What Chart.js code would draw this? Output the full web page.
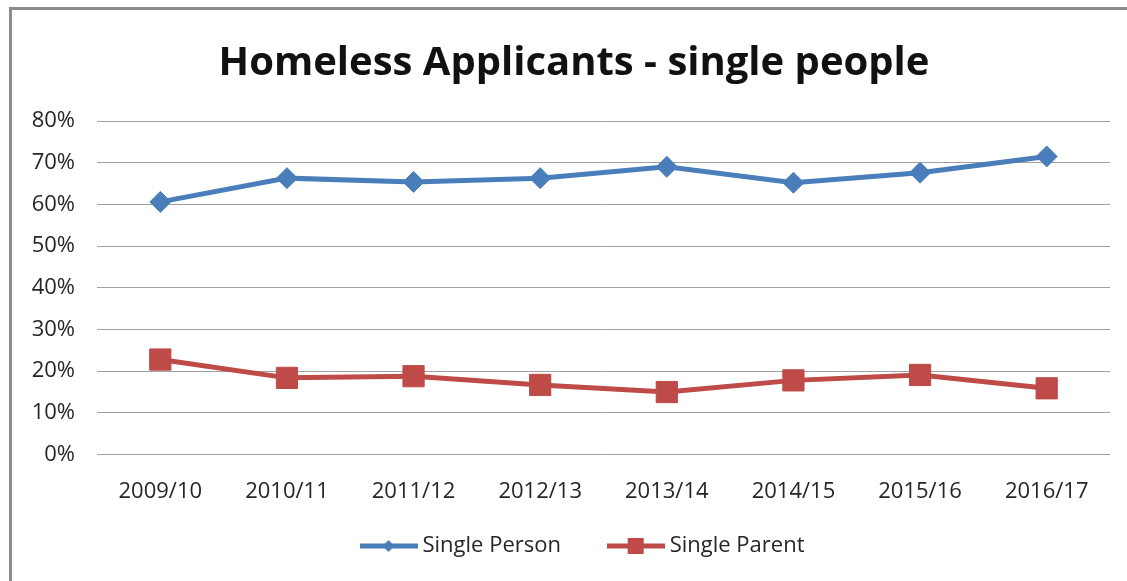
<!DOCTYPE html>
<html>
<head>
<meta charset="utf-8">
<script src="https://cdn.jsdelivr.net/npm/chart.js@4"></script>
<style>
  html, body { margin: 0; padding: 0; background: #fff; }
  .wrap { position: relative; width: 1127px; height: 581px; overflow: hidden; }
  .frame {
    position: absolute; left: 9px; top: 7px; width: 1200px; height: 700px;
    border-left: 3px solid #8c8c8c; border-top: 3px solid #8c8c8c;
  }
</style>
</head>
<body>
<div class="wrap">
  <div class="frame"></div>
  <canvas id="chart"></canvas>
</div>
<script>
const years = ['2009/10', '2010/11', '2011/12', '2012/13', '2013/14', '2014/15', '2015/16', '2016/17'];
const singlePerson = [0.606, 0.663, 0.654, 0.663, 0.690, 0.652, 0.676, 0.715];
const singleParent = [0.228, 0.184, 0.188, 0.167, 0.150, 0.178, 0.191, 0.159];
const yTicks = [0, 0.1, 0.2, 0.3, 0.4, 0.5, 0.6, 0.7, 0.8];

const BLUE = '#4a7ebb';
const RED = '#be4b48';
const TEXT = '#262626';

// legend swatch: a short line with the series marker in the middle
function swatch(color, marker) {
  const c = document.createElement('canvas');
  c.width = 58;
  c.height = 20;
  const g = c.getContext('2d');
  g.strokeStyle = color;
  g.lineWidth = 5;
  g.beginPath();
  g.moveTo(0, 10);
  g.lineTo(58, 10);
  g.stroke();
  g.fillStyle = color;
  if (marker === 'diamond') {
    g.beginPath();
    g.moveTo(29, 4);
    g.lineTo(35, 10);
    g.lineTo(29, 16);
    g.lineTo(23, 10);
    g.closePath();
    g.fill();
  } else {
    g.fillRect(21, 2, 16, 16);
  }
  return c;
}

const legendIcons = [swatch(BLUE, 'diamond'), swatch(RED, 'square')];

// nudge title and legend a little right of the canvas centre
const shiftBlocks = {
  id: 'shiftBlocks',
  afterLayout(chart) {
    if (chart.titleBlock) chart.titleBlock.left += 18;
    if (chart.legend) chart.legend.left += 40;
  }
};

new Chart(document.getElementById('chart'), {
  type: 'line',
  data: {
    labels: years,
    datasets: [
      {
        label: 'Single Person',
        data: singlePerson,
        borderColor: BLUE,
        backgroundColor: BLUE,
        borderWidth: 5,
        pointStyle: 'rectRot',
        pointRadius: 10.5,
        pointBorderWidth: 1,
        tension: 0
      },
      {
        label: 'Single Parent',
        data: singleParent,
        borderColor: RED,
        backgroundColor: RED,
        borderWidth: 5,
        pointStyle: 'rect',
        pointRadius: 15,
        pointBorderWidth: 1,
        tension: 0
      }
    ]
  },
  plugins: [shiftBlocks],
  options: {
    responsive: true,
    maintainAspectRatio: false,
    animation: false,
    layout: {
      padding: { left: 20, right: 17, top: 0, bottom: 14 }
    },
    scales: {
      x: {
        offset: true,
        grid: { display: false, drawTicks: false },
        border: { display: false },
        ticks: {
          padding: 24,
          color: TEXT,
          font: { family: 'Open Sans', size: 22 },
          maxRotation: 0
        }
      },
      y: {
        min: 0,
        max: 0.8,
        afterBuildTicks: (scale) => { scale.ticks = yTicks.map(v => ({ value: v })); },
        grid: { color: '#a0a0a0', lineWidth: 1, drawTicks: false },
        border: { display: false },
        ticks: {
          padding: 22,
          color: TEXT,
          font: { family: 'Open Sans', size: 22 },
          callback: (v) => Math.round(v * 100) + '%'
        },
        afterFit: (scale) => { scale.width = 77; }
      }
    },
    plugins: {
      title: {
        display: true,
        text: 'Homeless Applicants - single people',
        color: '#111',
        font: { family: 'Open Sans', size: 40, weight: 'bold' },
        padding: { top: 40, bottom: 33 }
      },
      legend: {
        position: 'bottom',
        labels: {
          usePointStyle: true,
          pointStyleWidth: 46,
          padding: 6,
          color: TEXT,
          font: { family: 'Open Sans', size: 22 },
          generateLabels: (chart) => chart.data.datasets.map((ds, i, all) => ({
            text: i < all.length - 1 ? ds.label + '        ' : ds.label,
            pointStyle: legendIcons[i],
            fontColor: TEXT,
            lineWidth: 0,
            datasetIndex: i,
            hidden: !chart.isDatasetVisible(i)
          }))
        }
      },
      tooltip: { enabled: false }
    }
  }
});
</script>
</body>
</html>
